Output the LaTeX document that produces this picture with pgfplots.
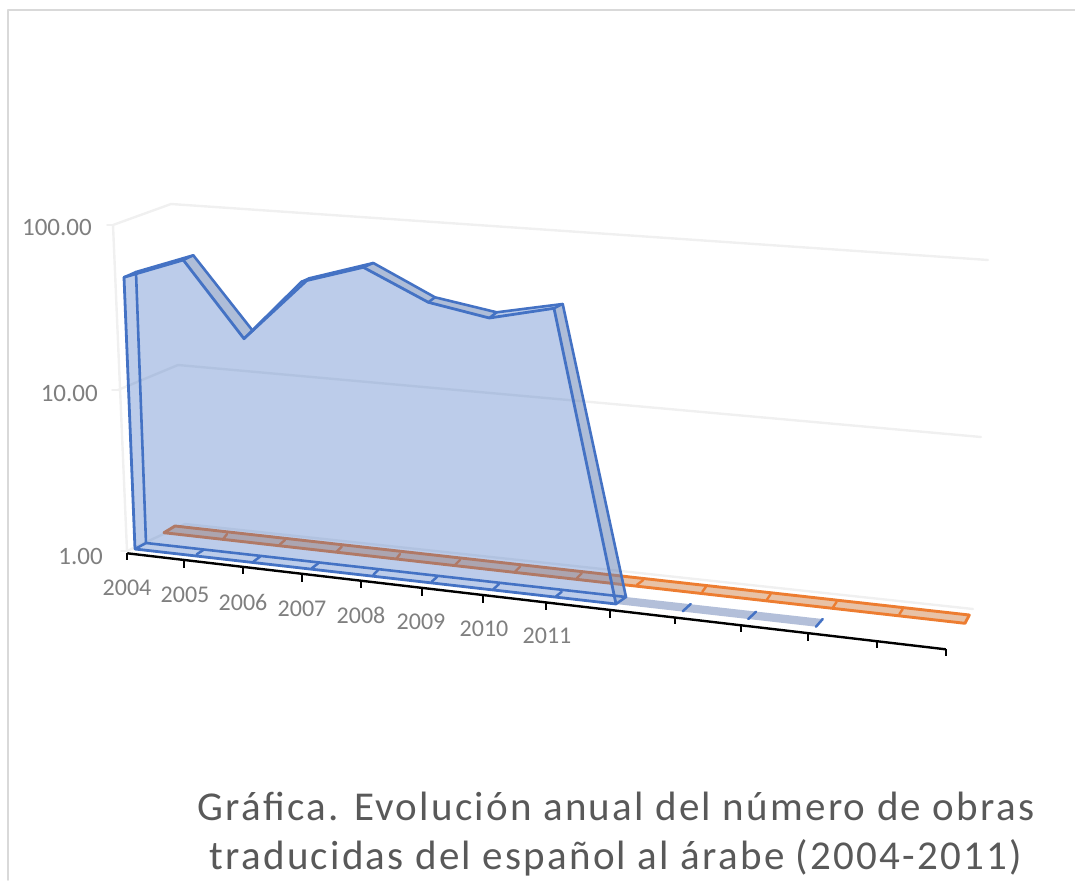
\documentclass[border=0pt]{standalone}
\usepackage{pgfplots}
\usepackage{fontspec}
\pgfplotsset{compat=1.18}
\setmainfont{Carlito}
\definecolor{gridC}{HTML}{F0F0F0}
\definecolor{frameC}{HTML}{D9D9D9}
\definecolor{lab}{HTML}{7F7F7F}
\definecolor{ttl}{HTML}{595959}
\definecolor{blueS}{HTML}{4472C4}
\definecolor{orangeS}{HTML}{ED7D31}
\definecolor{orangeF}{HTML}{E8C2A6}
\definecolor{floorB}{HTML}{B3BFD9}
\definecolor{bandB}{HTML}{8F9AAF}
\begin{document}
\begin{tikzpicture}
\useasboundingbox (0,0) rectangle (1075pt,880pt);
\begin{axis}[
  at={(0,0)}, anchor=south west,
  scale only axis, width=1075pt, height=880pt,
  xmin=0, xmax=1075, ymin=0, ymax=880, y dir=reverse,
  axis lines=none, clip=false,
  every axis plot/.append style={line join=round, line cap=round, mark=none}
]
% chart frame
\addplot[frameC, line width=1.8pt] coordinates {(8,880) (8,10) (1075,10)};
% gridlines (walls)
\addplot[gridC, line width=2.4pt] coordinates {(127,551) (113,225) (171,204) (988,260)};
\addplot[gridC, line width=2.4pt] coordinates {(118,390) (178,365) (981,437)};
\addplot[gridC, line width=2.4pt] coordinates {(127,551) (185,524) (973,609)};
\addplot[gridC, line width=1.6pt] coordinates {(107,225) (113,225)};
\addplot[gridC, line width=1.6pt] coordinates {(112,390) (118,390)};
\addplot[gridC, line width=1.6pt] coordinates {(121,551) (127,551)};
% series 2: orange ribbon
\addplot[fill=orangeF, draw=orangeS, line width=2.9pt] coordinates {(164,532.7) (175,526) (969.3,615) (965,623.3)} --cycle;
\addplot[orangeS, line width=2.4pt] coordinates {(223,539.3) (227,534)};
\addplot[orangeS, line width=2.4pt] coordinates {(280,544.3) (285,540)};
\addplot[orangeS, line width=2.4pt] coordinates {(336.7,551.7) (341.7,546.7)};
\addplot[orangeS, line width=2.4pt] coordinates {(396.7,558.3) (400,554)};
\addplot[orangeS, line width=2.4pt] coordinates {(455,565) (460,560)};
\addplot[orangeS, line width=2.4pt] coordinates {(515,571.7) (520,566.7)};
\addplot[orangeS, line width=2.4pt] coordinates {(576.7,578.3) (581.7,573.3)};
\addplot[orangeS, line width=2.4pt] coordinates {(636.7,585) (643.3,580)};
\addplot[orangeS, line width=2.4pt] coordinates {(702.3,591.7) (706,586.7)};
\addplot[orangeS, line width=2.4pt] coordinates {(766.7,600) (770.7,594)};
\addplot[orangeS, line width=2.4pt] coordinates {(833,607.3) (836.7,601.7)};
\addplot[orangeS, line width=2.4pt] coordinates {(899.3,614.3) (902.7,609)};
% series 1: empty years, floor ribbon
\addplot[fill=floorB, draw=none] coordinates {(616,604) (626,597) (822.7,619) (816,626.7)} --cycle;
\addplot[blueS, line width=2.5pt] coordinates {(682.7,611.3) (690.7,604)};
\addplot[blueS, line width=2.5pt] coordinates {(748.3,619) (756,611.7)};
\addplot[blueS, line width=2.5pt] coordinates {(816,626.7) (822.7,619)};
% series 1: translucent body
\addplot[fill=blueS, fill opacity=0.36, draw=none] coordinates {
 (124,277.3) (136,272) (193.3,255.3) (252.7,330.7) (309.3,278.3) (373.3,263)
 (435,297.3) (496.7,312.3) (562.7,304) (626,597) (616,604) (135,549)} --cycle;
% top and side faces
\addplot[fill=bandB, fill opacity=0.3, draw=none] coordinates {(183.3,260) (193.3,255.3) (252.7,330.7) (244,338.7)} --cycle;
\addplot[fill=bandB, fill opacity=0.3, draw=none] coordinates {(363.3,267.3) (373.3,263) (435,297.3) (428.3,302.3)} --cycle;
\addplot[fill=bandB, fill opacity=0.3, draw=none] coordinates {(428.3,302.3) (435,297.3) (496.7,312.3) (489.3,318)} --cycle;
\addplot[fill=bandB, fill opacity=0.3, draw=none] coordinates {(554,308.3) (562.7,304) (626,597) (616,604)} --cycle;
% outlines
\addplot[blueS, line width=2.8pt] coordinates {(135,549) (124,277.3) (183.3,260) (244,338.7) (301.7,281.7) (363.3,267.3) (428.3,302.3) (489.3,318) (554,308.3) (616,604) (135,549)};
\addplot[blueS, line width=2.6pt] coordinates {(146,543) (136,272) (193.3,255.3) (252.7,330.7) (309.3,278.3) (373.3,263) (435,297.3) (496.7,312.3) (562.7,304) (626,597) (146,543)};
\addplot[blueS, line width=2.5pt] coordinates {(124,277.3) (136,272)};
\addplot[blueS, line width=2.5pt] coordinates {(183.3,260) (193.3,255.3)};
\addplot[blueS, line width=2.5pt] coordinates {(244,338.7) (252.7,330.7)};
\addplot[blueS, line width=2.5pt] coordinates {(301.7,281.7) (309.3,278.3)};
\addplot[blueS, line width=2.5pt] coordinates {(363.3,267.3) (373.3,263)};
\addplot[blueS, line width=2.5pt] coordinates {(428.3,302.3) (435,297.3)};
\addplot[blueS, line width=2.5pt] coordinates {(489.3,318) (496.7,312.3)};
\addplot[blueS, line width=2.5pt] coordinates {(554,308.3) (562.7,304)};
\addplot[blueS, line width=2.5pt] coordinates {(135,549) (146,543)};
\addplot[blueS, line width=2.5pt] coordinates {(196.7,554.3) (203.3,550)};
\addplot[blueS, line width=2.5pt] coordinates {(253.3,561.7) (260,556.7)};
\addplot[blueS, line width=2.5pt] coordinates {(311.7,568.3) (318.3,563.3)};
\addplot[blueS, line width=2.5pt] coordinates {(373.3,575) (378,570)};
\addplot[blueS, line width=2.5pt] coordinates {(431.7,581.7) (437.3,576.7)};
\addplot[blueS, line width=2.5pt] coordinates {(493.3,589.3) (499,584)};
\addplot[blueS, line width=2.5pt] coordinates {(555.7,596.7) (561.7,591.7)};
\addplot[blueS, line width=2.5pt] coordinates {(616,604) (626,597)};
% category axis
\addplot[black, line width=2.4pt, line cap=butt] coordinates {(127.3,553.3) (945.7,649.3)};
\addplot[black, line width=2pt, line cap=butt] coordinates {(127.3,553.3) (127.3,560)};
\addplot[black, line width=2pt, line cap=butt] coordinates {(184.3,560) (184.3,568.3)};
\addplot[black, line width=2pt, line cap=butt] coordinates {(242.7,567) (242.7,574.3)};
\addplot[black, line width=2pt, line cap=butt] coordinates {(301.7,574) (301.7,581.7)};
\addplot[black, line width=2pt, line cap=butt] coordinates {(361,581) (361,588.3)};
\addplot[black, line width=2pt, line cap=butt] coordinates {(421.7,588) (421.7,595.7)};
\addplot[black, line width=2pt, line cap=butt] coordinates {(483.3,595) (483.3,602.7)};
\addplot[black, line width=2pt, line cap=butt] coordinates {(546,603) (546,610)};
\addplot[black, line width=2pt, line cap=butt] coordinates {(610,610) (610,617.7)};
\addplot[black, line width=2pt, line cap=butt] coordinates {(675,618) (675,624.3)};
\addplot[black, line width=2pt, line cap=butt] coordinates {(740.7,626) (740.7,632.3)};
\addplot[black, line width=2pt, line cap=butt] coordinates {(808,633) (808,640.7)};
\addplot[black, line width=2pt, line cap=butt] coordinates {(876.7,641) (876.7,648.3)};
\addplot[black, line width=2pt, line cap=butt] coordinates {(945.7,649) (945.7,656)};
% labels
\node[lab, anchor=east, inner sep=0pt, font=\fontsize{25}{28}\selectfont] at (axis cs:92,227) {100.00};
\node[lab, anchor=east, inner sep=0pt, font=\fontsize{25}{28}\selectfont] at (axis cs:98,393) {10.00};
\node[lab, anchor=east, inner sep=0pt, font=\fontsize{25}{28}\selectfont] at (axis cs:103,556) {1.00};
\node[lab, font=\fontsize{24}{28}\selectfont] at (axis cs:127,588) {2004};
\node[lab, font=\fontsize{24}{28}\selectfont] at (axis cs:185,595) {2005};
\node[lab, font=\fontsize{24}{28}\selectfont] at (axis cs:243,602) {2006};
\node[lab, font=\fontsize{24}{28}\selectfont] at (axis cs:302,609) {2007};
\node[lab, font=\fontsize{24}{28}\selectfont] at (axis cs:361,615) {2008};
\node[lab, font=\fontsize{24}{28}\selectfont] at (axis cs:421,622) {2009};
\node[lab, font=\fontsize{24}{28}\selectfont] at (axis cs:484,629) {2010};
\node[lab, font=\fontsize{24}{28}\selectfont] at (axis cs:547,636) {2011};
\node[ttl, font=\fontsize{41}{46}\selectfont\addfontfeature{LetterSpace=5.5}] at (axis cs:616,806) {Gráfica. Evolución anual del número de obras};
\node[ttl, font=\fontsize{41}{46}\selectfont\addfontfeature{LetterSpace=5.5}] at (axis cs:616,858) {traducidas del español al árabe (2004-2011)};
\end{axis}
\end{tikzpicture}
\end{document}
